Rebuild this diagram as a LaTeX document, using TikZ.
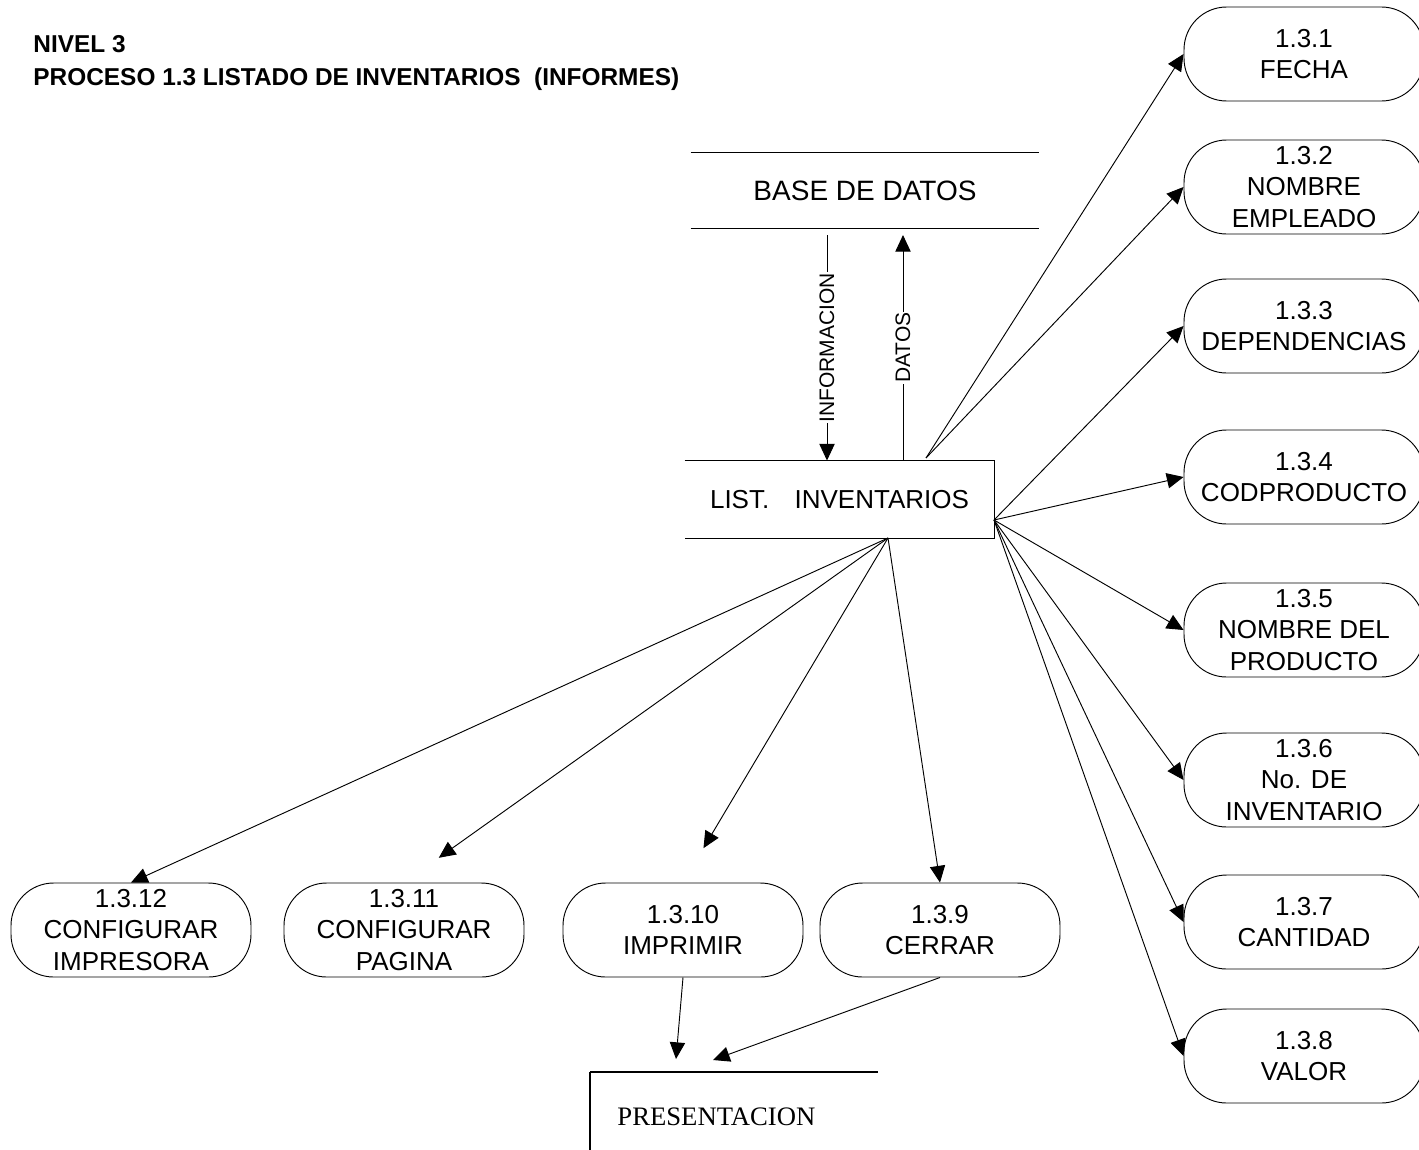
\documentclass[tikz,border=0pt]{standalone}
\usepackage{fontspec}
\setmainfont{Liberation Sans}
\newfontfamily\presfont{Liberation Serif}
\usetikzlibrary{positioning,arrows.meta,calc}

\begin{document}
\begin{tikzpicture}[
  x=0.75pt,
  y=-0.75pt,
  line width=0.7pt,
  font=\fontsize{19.5}{23.5}\selectfont,
  proc/.style={draw, rounded corners=32pt, minimum width=180pt, minimum height=70.5pt, align=center, inner sep=0pt},
  flujo/.style={-{Triangle[length=12.5pt,width=11.5pt]}},
  rotlbl/.style={font=\fontsize{15.75}{18}\selectfont, fill=white, inner sep=0.5pt, rotate=90}
]
\useasboundingbox (0,0) rectangle (1419,1149);

% titulo
\node[anchor=north west, align=left, inner sep=0pt, font=\fontsize{18.3}{24.75}\selectfont\bfseries] (titulo) at (33,35)
  {NIVEL 3\\PROCESO 1.3 LISTADO DE INVENTARIOS\ \ (INFORMES)};

% almacen y proceso central
\node[minimum width=261pt, minimum height=56.25pt, font=\fontsize{21}{24}\selectfont] (bd) at (865,190.5) {BASE DE DATOS};
\draw (bd.north west) -- (bd.north east);
\draw (bd.south west) -- (bd.south east);

\node[minimum width=231.75pt, minimum height=57.75pt] (lst) at (839.5,499.5) {LIST.\hspace{19pt}INVENTARIOS};
\draw (lst.north west) -- (lst.north east) -- (lst.south east) -- (lst.south west);

\coordinate (infoIni) at (827,235);
\coordinate (datosFin) at (903,235);
\draw[flujo] (infoIni) -- (infoIni |- lst.north) node[midway, rotlbl] {INFORMACION};
\draw[flujo] (datosFin |- lst.north) -- (datosFin) node[midway, rotlbl] {DATOS};

\coordinate (lsSup) at (926,458);
\coordinate (lsDer) at (994,520);
\coordinate (lsInf) at (888,538);

% subprocesos a la derecha
\node[proc] (p1) at (1304,54) {1.3.1\\FECHA};
\node[proc] (p2) at (1304,187) {1.3.2\\NOMBRE\\EMPLEADO};
\node[proc] (p3) at (1304,326) {1.3.3\\DEPENDENCIAS};
\node[proc] (p4) at (1304,477) {1.3.4\\CODPRODUCTO};
\node[proc] (p5) at (1304,630) {1.3.5\\NOMBRE DEL\\PRODUCTO};
\node[proc] (p6) at (1304,780) {1.3.6\\No. DE\\INVENTARIO};
\node[proc] (p7) at (1304,922) {1.3.7\\CANTIDAD};
\node[proc] (p8) at (1304,1056) {1.3.8\\VALOR};

% subprocesos abajo
\node[proc] (p12) at (131,930) {1.3.12\\CONFIGURAR\\IMPRESORA};
\node[proc] (p11) at (404,930) {1.3.11\\CONFIGURAR\\PAGINA};
\node[proc] (p10) at (683,930) {1.3.10\\IMPRIMIR};
\node[proc] (p9) at (940,930) {1.3.9\\CERRAR};

\draw[flujo] (lsSup) -- (p1.west);
\draw[flujo] (lsSup) -- (p2.west);
\foreach \k in {3,...,8}
  \draw[flujo] (lsDer) -- (p\k.west);

\draw[flujo] (lsInf) -- (p12.north);
\draw[flujo, shorten >=32pt] (lsInf) -- (p11.north);
\draw[flujo, shorten >=30pt] (lsInf) -- (p10.north);
\draw[flujo] (lsInf) -- (p9.north);

% presentacion
\node[anchor=base west, inner sep=0pt, font=\presfont\fontsize{20}{24}\selectfont] (pres) at (617,1125) {PRESENTACION};
\coordinate (presEsq) at (590,1072);
\draw[line width=1pt] (presEsq) -- ++(288,0);
\draw[line width=1pt] (presEsq) -- ++(0,80);
\coordinate (presA) at (676,1059);
\coordinate (presB) at (713,1060);
\draw[flujo] (p10.south) -- (presA);
\draw[flujo] (p9.south) -- (presB);
\end{tikzpicture}
\end{document}
